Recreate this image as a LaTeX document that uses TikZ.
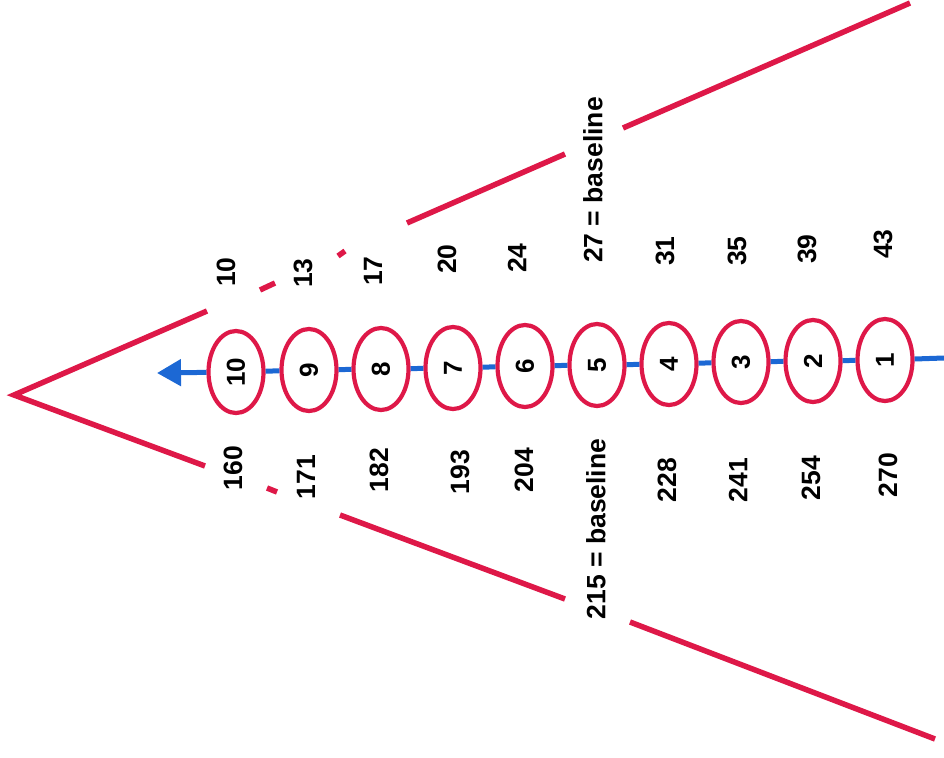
\documentclass[tikz,border=0pt]{standalone}
\usepackage{fontspec}
\setmainfont{Liberation Sans}
\usetikzlibrary{shapes.geometric,arrows.meta}
\definecolor{redl}{RGB}{222,24,72}
\definecolor{bluel}{RGB}{28,104,212}
\begin{document}
\begin{tikzpicture}[x=1pt,y=-1pt,
  redline/.style={draw=redl,line width=5.5pt},
  blueline/.style={draw=bluel,line width=5pt},
  ring/.style={ellipse,draw=redl,line width=4.2pt,fill=white,minimum width=55pt,minimum height=82pt,inner sep=0pt,font=\bfseries\fontsize{26}{28}\selectfont},
  lbl/.style={rotate=90,font=\bfseries\fontsize{26.5}{28}\selectfont,inner sep=0pt}]
\useasboundingbox (0,0) rectangle (944,757);
% red V lines
\coordinate (apex) at (14,395);
\coordinate (u1) at (207,311);
\coordinate (u2a) at (260,290); \coordinate (u2b) at (275,283);
\coordinate (u3a) at (338,256); \coordinate (u3b) at (345,251);
\coordinate (u4a) at (407,223); \coordinate (u4b) at (565,154);
\coordinate (u5a) at (623,128); \coordinate (u5b) at (910,3);
\coordinate (l1) at (205,466);
\coordinate (l2a) at (267,488); \coordinate (l2b) at (277,492);
\coordinate (l3a) at (340,515); \coordinate (l3b) at (565,599);
\coordinate (l4a) at (630,622); \coordinate (l4b) at (935,739);
\draw[redline] (u1) -- (apex) -- (l1);
\draw[redline] (u2a) -- (u2b);
\draw[redline] (u3a) -- (u3b);
\draw[redline] (u4a) -- (u4b);
\draw[redline] (u5a) -- (u5b);
\draw[redline] (l2a) -- (l2b);
\draw[redline] (l3a) -- (l3b);
\draw[redline] (l4a) -- (l4b);
% ellipses
\foreach \i/\x/\y in {1/885/360,2/813/361,3/741/362,4/669/364,5/597/365,6/525/366,7/453/368,8/381/369,9/309/370,10/236/372}{
  \node[ring] (e\i) at (\x,\y) {\rotatebox{90}{\i}};
}
\coordinate (start) at (944,358);
\coordinate (tip) at (157,373);
\draw[blueline] (start) -- (e1) -- (e2) -- (e3) -- (e4) -- (e5) -- (e6) -- (e7) -- (e8) -- (e9) -- (e10);
\draw[blueline,-{Triangle[length=24pt,width=26pt]}] (e10) -- (tip);
% upper labels
\node[lbl] (a10) at (226,272) {10};
\node[lbl] (a13) at (303,273) {13};
\node[lbl] (a17) at (373,271) {17};
\node[lbl] (a20) at (447,259) {20};
\node[lbl] (a24) at (517,258) {24};
\node[lbl] (a27) at (593,180) {27 = baseline};
\node[lbl] (a31) at (665,251) {31};
\node[lbl] (a35) at (737,251) {35};
\node[lbl] (a39) at (807,249) {39};
\node[lbl] (a43) at (883,244) {43};
% lower labels
\node[lbl] (b160) at (233,468) {160};
\node[lbl] (b171) at (306,477) {171};
\node[lbl] (b182) at (379,470) {182};
\node[lbl] (b193) at (460,472) {193};
\node[lbl] (b204) at (524,470) {204};
\node[lbl] (b215) at (596,529) {215 = baseline};
\node[lbl] (b228) at (667,480) {228};
\node[lbl] (b241) at (738,480) {241};
\node[lbl] (b254) at (811,478) {254};
\node[lbl] (b270) at (888,475) {270};
\end{tikzpicture}
\end{document}
